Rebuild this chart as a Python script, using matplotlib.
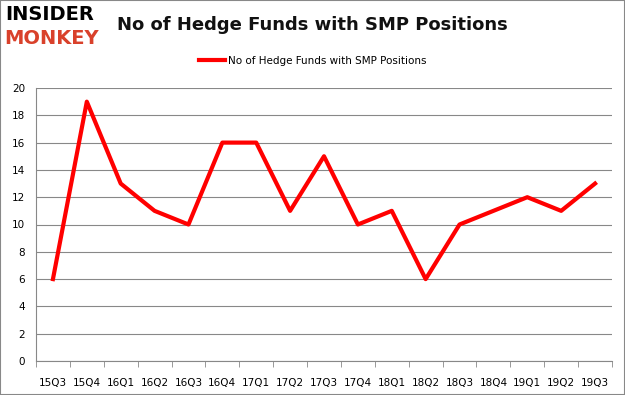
import matplotlib.pyplot as plt
from matplotlib.patches import Rectangle

quarters = ['15Q3', '15Q4', '16Q1', '16Q2', '16Q3', '16Q4', '17Q1', '17Q2', '17Q3',
            '17Q4', '18Q1', '18Q2', '18Q3', '18Q4', '19Q1', '19Q2', '19Q3']
funds = [6, 19, 13, 11, 10, 16, 16, 11, 15, 10, 11, 6, 10, 11, 12, 11, 13]
y_ticks = [0, 2, 4, 6, 8, 10, 12, 14, 16, 18, 20]

fig = plt.figure(figsize=(6.25, 3.95), dpi=100)
ax = fig.add_axes([36 / 625, 1 - 361 / 395, 576 / 625, 273 / 395])

x = range(len(quarters))
ax.plot(x, funds, color='#ff0000', lw=3, label='No of Hedge Funds with SMP Positions')

ax.set_xlim(-0.5, len(quarters) - 0.5)
ax.set_ylim(0, 20)
ax.set_yticks(y_ticks)
ax.set_xticks(x)
ax.set_xticklabels(quarters)
ax.set_xticks([i - 0.5 for i in range(len(quarters) + 1)], minor=True)
ax.tick_params(axis='x', which='major', length=0, pad=12, labelsize=7.5)
ax.tick_params(axis='x', which='minor', length=4, color='#888888')
ax.tick_params(axis='y', length=0, pad=8, labelsize=7.5)
ax.grid(axis='y', color='#888888', lw=0.8)
ax.set_axisbelow(True)
for s in ['top', 'right']:
    ax.spines[s].set_visible(False)
ax.spines['left'].set_color('#888888')
ax.spines['bottom'].set_color('#888888')

fig.legend(loc='center', bbox_to_anchor=(0.5, 1 - 61 / 395), frameon=False,
           fontsize=7.5, handlelength=2.5, handletextpad=0.3)

fig.text(0.5, 1 - 25 / 395, 'No of Hedge Funds with SMP Positions', ha='center', va='center',
         fontsize=13, fontweight='bold', color='#111111')
fig.text(5 / 625, 1 - 15 / 395, 'INSIDER', ha='left', va='center', fontsize=14,
         fontweight='heavy', color='black')
fig.text(4 / 625, 1 - 39 / 395, 'MONKEY', ha='left', va='center', fontsize=14,
         fontweight='heavy', color='#d9412b')

fig.patches.append(Rectangle((0, 0), 1, 1, transform=fig.transFigure, fill=False,
                             edgecolor='#888888', lw=1.5))

fig.savefig('out.png', dpi=100)
